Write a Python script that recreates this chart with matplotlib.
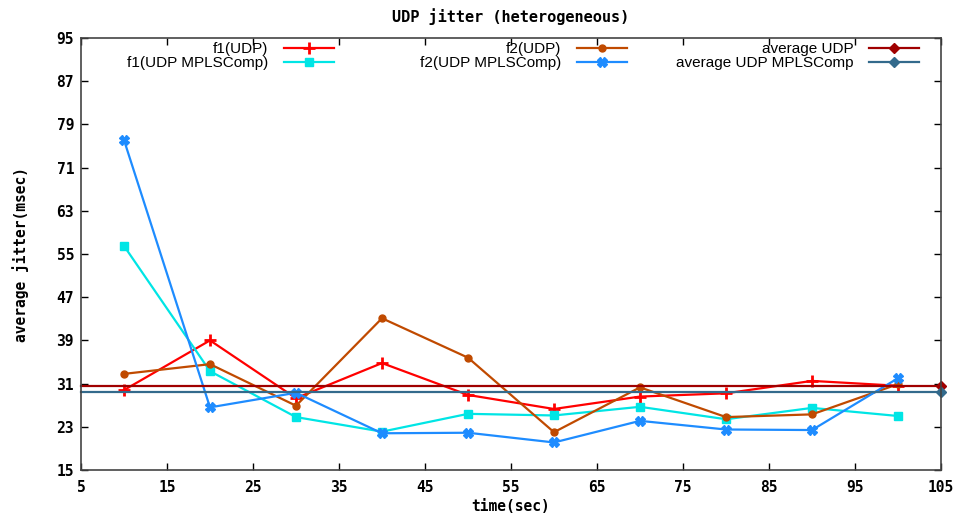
import matplotlib
matplotlib.use("Agg")
import matplotlib.pyplot as plt
from matplotlib.font_manager import FontProperties
import numpy as np

time_sec = [10, 20, 30, 40, 50, 60, 70, 80, 90, 100]
f1_udp = [29.8, 39.0, 28.3, 34.8, 28.9, 26.3, 28.6, 29.2, 31.5, 30.6]
f2_udp = [32.8, 34.6, 26.9, 43.1, 35.8, 22.0, 30.3, 24.8, 25.3, 30.9]
f1_mpls = [56.5, 33.3, 24.8, 22.1, 25.4, 25.1, 26.7, 24.4, 26.5, 25.0]
f2_mpls = [76.1, 26.6, 29.3, 21.8, 21.9, 20.1, 24.1, 22.5, 22.4, 32.0]
avg_udp = 30.6
avg_mpls = 29.4

x_ticks = np.arange(5, 106, 10)
y_ticks = np.arange(15, 96, 8)

mono = {"family": "DejaVu Sans Mono", "weight": "bold", "size": 10.5}

fig = plt.figure(figsize=(9.63, 5.13), dpi=100)
ax = fig.add_axes([81 / 963, 43 / 513, 860 / 963, 432 / 513])

l1, = ax.plot(time_sec, f1_udp, color="#ff0000", lw=1.6, marker="+", ms=8,
              mew=2, label="f1(UDP)")
l2, = ax.plot(time_sec, f1_mpls, color="#00e5e5", lw=1.6, marker="s", ms=6,
              label="f1(UDP MPLSComp)")
l3, = ax.plot(time_sec, f2_udp, color="#c04a00", lw=1.6, marker="o", ms=5,
              label="f2(UDP)")
l4, = ax.plot(time_sec, f2_mpls, color="#1e8cff", lw=1.6, marker="X", ms=7,
              label="f2(UDP MPLSComp)")
# averages run across the whole range, marker only at the right edge
l5, = ax.plot([5, 105], [avg_udp, avg_udp], color="#a00000", lw=1.6,
              marker="D", ms=5, markevery=[1], label="average UDP",
              clip_on=False)
l6, = ax.plot([5, 105], [avg_mpls, avg_mpls], color="#336a8c", lw=1.6,
              marker="D", ms=5, markevery=[1], label="average UDP MPLSComp",
              clip_on=False)

ax.set_xlim(5, 105)
ax.set_ylim(15, 95)
ax.set_xticks(x_ticks)
ax.set_yticks(y_ticks)
ax.tick_params(direction="in", length=5, top=True, right=True, width=1)
ax.tick_params(axis="x", pad=7)
ax.tick_params(axis="y", pad=5)
for lbl in ax.get_xticklabels() + ax.get_yticklabels():
    lbl.set_fontproperties(FontProperties(**mono))
for s in ax.spines.values():
    s.set_linewidth(1.2)
    s.set_color("#444444")

ax.set_title("UDP jitter (heterogeneous)", fontdict=dict(mono, size=11), pad=11.5)
ax.set_xlabel("time(sec)", fontdict=mono, labelpad=3)
ax.set_ylabel("average jitter(msec)", fontdict=mono, labelpad=20)

# gnuplot-style key: three equal columns, text right-aligned before the sample
for pair, right_px in [((l1, l2), 334), ((l3, l4), 627), ((l5, l6), 919)]:
    leg = fig.legend(pair, [p.get_label() for p in pair],
                     loc="upper right",
                     bbox_to_anchor=(right_px / 963, 1 - 42 / 513),
                     frameon=False, markerfirst=False, handlelength=3.3,
                     handletextpad=1.0, labelspacing=0.0, borderpad=0.0,
                     borderaxespad=0.0,
                     prop={"family": "Liberation Sans", "size": 11})
    leg._legend_box.get_children()[1].align = "right"
    for vp in leg._legend_box.get_children()[1].get_children():
        vp.align = "right"

fig.savefig("out.png", dpi=100)
